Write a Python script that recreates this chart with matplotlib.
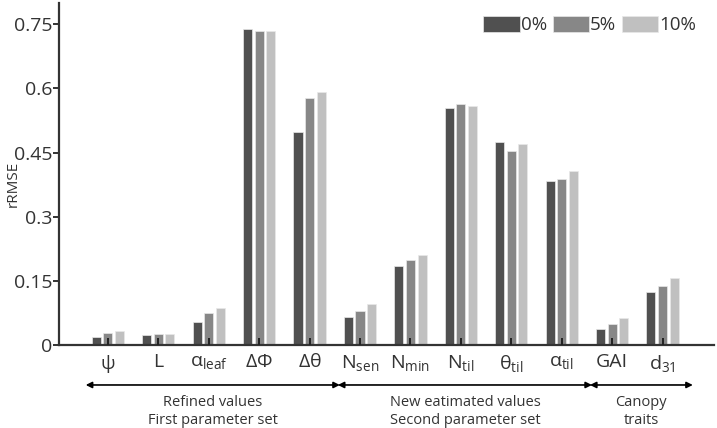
import matplotlib
matplotlib.use("Agg")
import matplotlib.pyplot as plt
import numpy as np

plt.rcParams['font.family'] = ['Open Sans', 'DejaVu Sans']
plt.rcParams['mathtext.fontset'] = 'custom'
plt.rcParams['mathtext.rm'] = 'Open Sans'
plt.rcParams['mathtext.it'] = 'Open Sans'
plt.rcParams['mathtext.bf'] = 'Open Sans'

# parameters on the x axis
labels = [r'$\mathregular{\psi}$', 'L', r'$\mathregular{\alpha_{leaf}}$',
          r'$\mathregular{\Delta\Phi}$', r'$\mathregular{\Delta\theta}$',
          r'$\mathregular{N_{sen}}$', r'$\mathregular{N_{min}}$',
          r'$\mathregular{N_{til}}$', r'$\mathregular{\theta_{til}}$',
          r'$\mathregular{\alpha_{til}}$', 'GAI', r'$\mathregular{d_{31}}$']

# rRMSE for each noise level
noise_0 = [0.019, 0.023, 0.053, 0.738, 0.499, 0.065, 0.185, 0.554, 0.475, 0.383, 0.038, 0.123]
noise_5 = [0.027, 0.026, 0.074, 0.734, 0.578, 0.079, 0.199, 0.563, 0.453, 0.389, 0.049, 0.139]
noise_10 = [0.032, 0.026, 0.087, 0.734, 0.591, 0.097, 0.210, 0.559, 0.470, 0.407, 0.062, 0.156]
series_names = ['0%', '5%', '10%']

# grouping below the axis: (first index, last index, text)
groups = [(0, 4, 'Refined values\nFirst parameter set'),
          (5, 9, 'New eatimated values\nSecond parameter set'),
          (10, 11, 'Canopy\ntraits')]

colors = ['#505050', '#878787', '#c0c0c0']

fig = plt.figure(figsize=(7.17, 4.28), dpi=100)
ax = fig.add_axes([0.0823, 0.194, 0.9135, 0.799])

x = np.arange(len(labels))
w = 0.18
step = 0.23
for k, vals in enumerate([noise_0, noise_5, noise_10]):
    ax.bar(x + (k - 1) * step, vals, width=w, color=colors[k],
           edgecolor='#e8e8e8', linewidth=0.5, label=series_names[k], zorder=2)

ax.set_xlim(-0.97, 12.02)
ax.set_ylim(0, 0.80)
ax.set_yticks([0, 0.15, 0.3, 0.45, 0.6, 0.75])
ax.set_yticklabels(['0', '0.15', '0.3', '0.45', '0.6', '0.75'])
ax.set_xticks(x)
ax.set_xticklabels(labels)

for s in ['top', 'right']:
    ax.spines[s].set_visible(False)
for s in ['left', 'bottom']:
    ax.spines[s].set_linewidth(1.6)
    ax.spines[s].set_color('#333333')

ax.tick_params(axis='y', direction='out', length=4, width=1.4, color='#333333',
               labelsize=14, labelcolor='#333333', pad=1)
ax.tick_params(axis='x', direction='in', length=5, width=1.4, color='#222222',
               labelsize=14, labelcolor='#333333', pad=6)
for t in ax.xaxis.get_major_ticks():
    t.tick1line.set_zorder(5)
ax.set_axisbelow(False)

ax.set_ylabel('rRMSE', fontsize=11, color='#333333')
ax.yaxis.set_label_coords(-0.058, 0.471)

leg = ax.legend(ncol=3, frameon=False, fontsize=13.5, loc='upper right',
                bbox_to_anchor=(0.99, 0.995), handlelength=1.95, handleheight=0.95,
                handletextpad=0.05, columnspacing=0.3, borderaxespad=0.2)
for t in leg.get_texts():
    t.set_color('#333333')

tr = ax.get_xaxis_transform()
for a, b, txt in groups:
    ax.annotate('', xy=(a - 0.44, -0.117), xytext=(b + 0.6, -0.117), xycoords=tr,
                textcoords=tr, annotation_clip=False,
                arrowprops=dict(arrowstyle='<|-|>', color='black', lw=1.2,
                                mutation_scale=9, shrinkA=0, shrinkB=0))
    ax.text((a - 0.44 + b + 0.6) / 2, -0.195, txt, transform=tr, ha='center',
            va='center', fontsize=10.5, color='#333333', linespacing=1.25)

fig.savefig('out.png', dpi=100)
